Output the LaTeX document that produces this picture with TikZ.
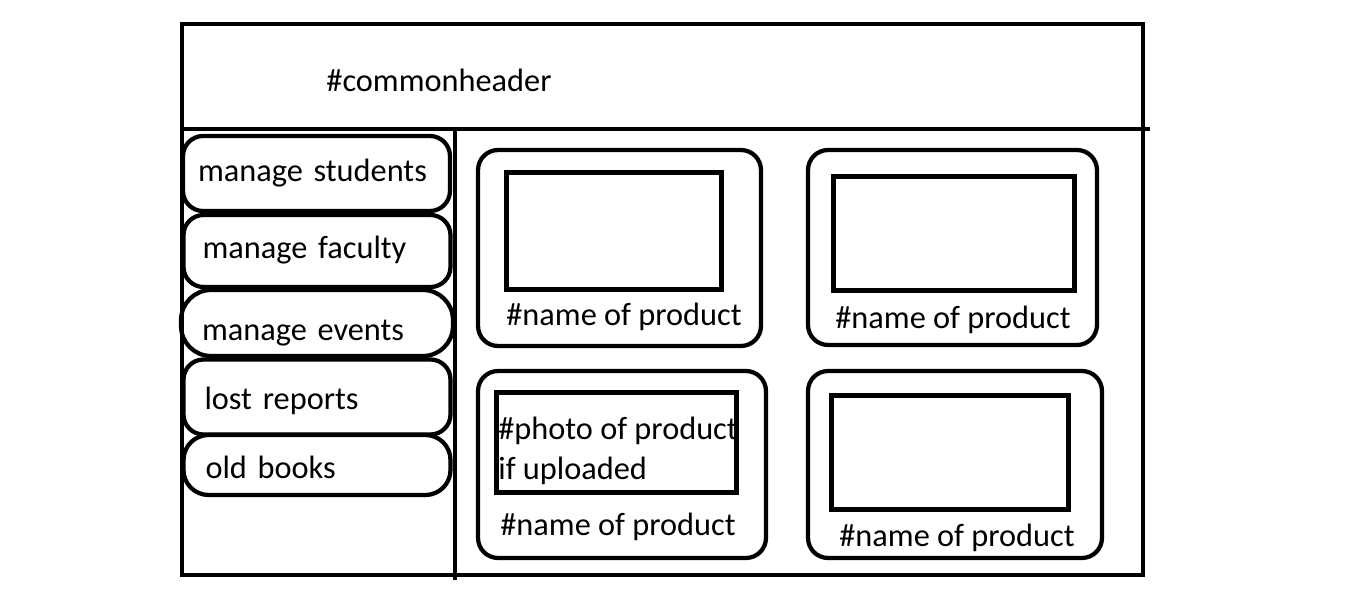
\documentclass[tikz,border=0pt]{standalone}
\usepackage{fontspec}
\setmainfont{Carlito}
\usepackage{tikz}

\tikzset{
  pen/.style={line width=0.085cm},
  menuitem/.style={pen, draw, rounded corners=0.4cm, minimum width=5.34cm, inner xsep=0.38cm, inner ysep=0pt, text width=4.58cm, text height=13pt, text depth=4pt, align=left},
  card/.style={pen, draw, rounded corners=0.4cm},
  photo/.style={line width=0.1cm, draw, inner sep=0pt}
}

\begin{document}
\begin{tikzpicture}[x=0.02cm,y=-0.02cm,font=\fontsize{18.4}{22.4}\selectfont]
                        \useasboundingbox (0,0) rectangle (1357,598);
                        % frame
                        \draw[pen] (182,24) rectangle (1143,575);
                        \draw[pen] (182,129) -- (1150,129);
                        \draw[pen] (455,129) -- (455,580);
                        \node (HD) at (439,80) {\#commonheader};
                        % menu
                        \draw (316.5,173.5) node[menuitem,minimum height=1.5cm,inner xsep=0.3cm,text width=4.74cm] (M1) {manage students};
                        \draw (317,251) node[menuitem,minimum height=1.44cm] (M2) {manage faculty};
                        \draw (317,323) node[menuitem,minimum height=1.32cm,minimum width=5.44cm,text width=4.6cm,inner xsep=0.42cm,text height=24pt,rounded corners=0.6cm] (M3) {manage events};
                        \draw (317,397) node[menuitem,minimum height=1.5cm,inner xsep=0.42cm,text width=4.5cm,text height=18.5pt] (M4) {lost reports};
                        \draw (317,465) node[menuitem,minimum height=1.2cm,inner xsep=0.44cm,text width=4.46cm,text height=19pt,rounded corners=0.5cm] (M5) {old books};
                        % cards
                        \draw (619.5,248) node[card,minimum width=5.66cm,minimum height=3.92cm] (C1) {};
                        \draw (952.5,247.5) node[card,minimum width=5.78cm,minimum height=3.9cm] (C2) {};
                        \draw (622,464.5) node[card,minimum width=5.76cm,minimum height=3.74cm] (C3) {};
                        \draw (955,464.5) node[card,minimum width=5.88cm,minimum height=3.74cm] (C4) {};
                        % photos
                        \draw (614,231) node[photo,minimum width=4.32cm,minimum height=2.36cm] (P1) {};
                        \draw (954,233.5) node[photo,minimum width=4.84cm,minimum height=2.3cm] (P2) {};
                        \draw (616.5,442.5) node[photo,minimum width=4.82cm,minimum height=2.02cm] (P3) {};
                        \draw (950,452.5) node[photo,minimum width=4.76cm,minimum height=2.3cm] (P4) {};
                        \node[anchor=west,align=left,inner sep=0pt] (T3) at (498,451) {\#photo of product\\if uploaded};
                        % names
                        \node (N1) at (624,317) {\#name of product};
                        \node (N2) at (953,320) {\#name of product};
                        \node (N3) at (618,527) {\#name of product};
                        \node (N4) at (957,538) {\#name of product};
                    \end{tikzpicture}
\end{document}
